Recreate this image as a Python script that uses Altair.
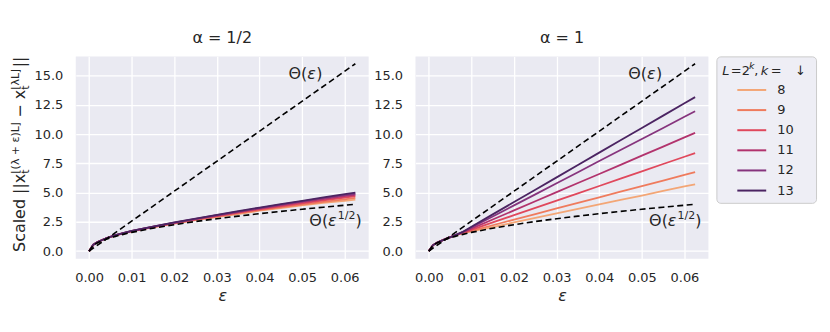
import altair as alt
import pandas as pd

# ---------------- data ----------------
eps = [0.0, 0.001, 0.002, 0.004, 0.006, 0.008, 0.01, 0.015, 0.02, 0.025,
       0.03, 0.035, 0.04, 0.045, 0.05, 0.055, 0.06, 0.0625]
ks = [8, 9, 10, 11, 12, 13]
colors = ["#f3a676", "#ef7b5d", "#e0485c", "#b2336d", "#86347d", "#4b2462"]

# alpha = 1/2 panel
half_8 = [0, 0.55, 0.78, 1.1, 1.33, 1.51, 1.68, 2.04, 2.35, 2.64, 2.9, 3.17, 3.45, 3.68, 3.9, 4.12, 4.3, 4.4]
half_9 = [0, 0.55, 0.78, 1.1, 1.33, 1.52, 1.69, 2.05, 2.37, 2.67, 2.95, 3.22, 3.5, 3.74, 3.98, 4.2, 4.42, 4.55]
half_10 = [0, 0.55, 0.78, 1.1, 1.33, 1.52, 1.7, 2.07, 2.4, 2.71, 3.0, 3.28, 3.57, 3.83, 4.08, 4.33, 4.58, 4.7]
half_11 = [0, 0.55, 0.78, 1.1, 1.34, 1.53, 1.71, 2.08, 2.42, 2.74, 3.04, 3.34, 3.63, 3.91, 4.18, 4.45, 4.7, 4.8]
half_12 = [0, 0.55, 0.78, 1.1, 1.34, 1.53, 1.72, 2.09, 2.44, 2.76, 3.07, 3.38, 3.68, 3.97, 4.25, 4.53, 4.79, 4.9]
half_13 = [0, 0.55, 0.78, 1.1, 1.34, 1.53, 1.72, 2.1, 2.45, 2.78, 3.1, 3.41, 3.72, 4.02, 4.3, 4.59, 4.86, 5.0]

# alpha = 1 panel
one_8 = [0, 0.52, 0.74, 1.05, 1.32, 1.53, 1.68, 2.06, 2.45, 2.83, 3.22, 3.6, 3.99, 4.37, 4.75, 5.14, 5.52, 5.71]
one_9 = [0, 0.52, 0.74, 1.05, 1.32, 1.55, 1.74, 2.21, 2.69, 3.17, 3.65, 4.12, 4.6, 5.08, 5.56, 6.03, 6.51, 6.75]
one_10 = [0, 0.52, 0.74, 1.05, 1.32, 1.57, 1.82, 2.45, 3.07, 3.69, 4.32, 4.94, 5.56, 6.19, 6.81, 7.44, 8.06, 8.37]
one_11 = [0, 0.52, 0.74, 1.05, 1.32, 1.61, 1.92, 2.7, 3.48, 4.26, 5.04, 5.82, 6.59, 7.37, 8.15, 8.93, 9.71, 10.1]
one_12 = [0, 0.52, 0.74, 1.05, 1.32, 1.64, 2.02, 2.96, 3.91, 4.85, 5.8, 6.74, 7.69, 8.63, 9.58, 10.52, 11.47, 11.94]
one_13 = [0, 0.52, 0.74, 1.05, 1.32, 1.66, 2.08, 3.14, 4.19, 5.25, 6.3, 7.35, 8.41, 9.46, 10.51, 11.57, 12.62, 13.15]

# reference curves
sqrt_ref = [0, 0.51, 0.72, 1.01, 1.24, 1.43, 1.6, 1.96, 2.26, 2.53, 2.77, 2.99, 3.2, 3.39, 3.58, 3.75, 3.92, 4.0]
lin_eps = [0.0, 0.0625]
lin_ref = [0.0, 16.0]

x_ticks = [0.0, 0.01, 0.02, 0.03, 0.04, 0.05, 0.06]
y_ticks = [0.0, 2.5, 5.0, 7.5, 10.0, 12.5, 15.0]

# ---------------- style ----------------
FONT = "DejaVu Sans"
TXT = "#262626"
BG = "#EAEAF2"
W, H = 294, 203

half = dict(zip(ks, [half_8, half_9, half_10, half_11, half_12, half_13]))
one = dict(zip(ks, [one_8, one_9, one_10, one_11, one_12, one_13]))


def long_df(d):
    rows = []
    for k in ks:
        for e, v in zip(eps, d[k]):
            rows.append({"eps": e, "val": v, "k": k})
    return pd.DataFrame(rows)


xscale = alt.Scale(domain=[-0.003125, 0.065625], nice=False, zero=False)
yscale = alt.Scale(domain=[-0.64, 16.63], nice=False, zero=False)
cscale = alt.Scale(domain=ks, range=colors)

xaxis = alt.Axis(values=x_ticks, format=".2f", title="ε", titleFontStyle="italic", labelOverlap=False)
yaxis = alt.Axis(values=y_ticks, format=".1f", title=None, labelOverlap=False)

XE = alt.X("eps:Q", scale=xscale, axis=xaxis)
YV = alt.Y("val:Q", scale=yscale, axis=yaxis)


def piece(txt, dx, dy=0, size=16, italic=False):
    return dict(txt=txt, dx=dx, dy=dy, size=size, italic=italic)


def annotations(e, v, pieces):
    df = pd.DataFrame({"eps": [e], "val": [v]})
    out = []
    for p in pieces:
        out.append(
            alt.Chart(df).mark_text(
                align="left", baseline="alphabetic", font=FONT, color=TXT,
                fontSize=p["size"], dx=p["dx"], dy=p["dy"],
                fontStyle="italic" if p["italic"] else "normal", text=p["txt"],
            ).encode(x=XE, y=YV)
        )
    return out


def panel(d, title, with_ytitle):
    lines = alt.Chart(long_df(d)).mark_line(strokeWidth=1.8).encode(
        x=XE, y=YV,
        color=alt.Color("k:N", scale=cscale, legend=None),
    )
    sq = alt.Chart(pd.DataFrame({"eps": eps, "val": sqrt_ref})).mark_line(
        color="black", strokeDash=[6, 3.5], strokeWidth=1.6
    ).encode(x=XE, y=YV)
    li = alt.Chart(pd.DataFrame({"eps": lin_eps, "val": lin_ref})).mark_line(
        color="black", strokeDash=[6, 3.5], strokeWidth=1.6
    ).encode(x=XE, y=YV)
    layers = [lines, sq, li]
    layers += annotations(0.0468, 14.7, [piece("Θ(", 0), piece("ε", 18.8, italic=True), piece(")", 28)])
    layers += annotations(0.0517, 2.15, [piece("Θ(", 0), piece("ε", 18.8, italic=True),
                                         piece("1/2", 28.5, dy=-6.5, size=11), piece(")", 46.3)])
    if with_ytitle:
        segs = [
            ("Scaled ||x", -51, 196.3, 16),
            ("t", -47, 117.7, 11),
            ("⌊(λ + ε)L⌋", -57, 117.7, 11),
            ("− x", -51, 61.5, 16),
            ("t", -47, 33.5, 11),
            ("⌊λL⌋", -57, 33.5, 11),
            ("||", -51, 11, 16),
        ]
        for s, px, py, fs in segs:
            layers.append(
                alt.Chart(pd.DataFrame({"s": [s]})).mark_text(
                    angle=270, align="left", baseline="alphabetic", font=FONT,
                    color=TXT, fontSize=fs, text=s,
                ).encode(x=alt.value(px), y=alt.value(py))
            )
    return alt.layer(*layers).properties(width=W, height=H, title=title)


left = panel(half, "α = 1/2", True)
right = panel(one, "α = 1", False)

# ---------------- legend panel ----------------
leg_df = pd.DataFrame({"k": ks})
lyscale = alt.Scale(domain=[6.33, 13.61], reverse=True, nice=False, zero=False)
leg_rules = alt.Chart(leg_df).mark_rule(strokeWidth=2).encode(
    x=alt.value(21), x2=alt.value(50),
    y=alt.Y("k:Q", scale=lyscale, axis=None),
    color=alt.Color("k:N", scale=cscale, legend=None),
)
leg_labels = alt.Chart(leg_df).mark_text(
    align="left", baseline="middle", font=FONT, fontSize=13, color=TXT
).encode(x=alt.value(61), y=alt.Y("k:Q", scale=lyscale, axis=None), text="k:N")

title_pieces = [
    ("L", 6, 18.6, 13, True),
    ("=", 14.5, 18.6, 13, False),
    ("2", 25.5, 18.6, 13, False),
    ("k", 32.8, 12.8, 9.5, True),
    (",", 38, 18.6, 13, False),
    ("k", 44.5, 18.6, 13, True),
    ("=", 54.5, 18.6, 13, False),
    ("↓", 79, 18.6, 13, False),
]
leg_layers = [leg_rules, leg_labels]
for s, px, py, fs, it in title_pieces:
    leg_layers.append(
        alt.Chart(pd.DataFrame({"s": [s]})).mark_text(
            align="left", baseline="alphabetic", font=FONT, color=TXT, fontSize=fs,
            fontStyle="italic" if it else "normal", text=s,
        ).encode(x=alt.value(px), y=alt.value(py))
    )
legend = alt.layer(*leg_layers).properties(
    width=100, height=147, title=alt.TitleParams(" ", offset=7),
    view=alt.ViewBackground(fill="#EEEEF5", stroke="#CCCCCC", cornerRadius=4),
)

panels = alt.hconcat(left, right, spacing=5)
chart = alt.hconcat(panels, legend, spacing=7).properties(
    padding={"left": 1, "top": 22, "right": 5, "bottom": 5}
).configure_view(
    fill=BG, stroke=None
).configure_axis(
    grid=True, gridColor="white", gridWidth=1.3, domain=False, ticks=False,
    labelFont=FONT, labelFontSize=13, labelColor=TXT, labelPadding=13,
    titleFont=FONT, titleFontSize=16, titleFontWeight="normal", titleColor=TXT,
    titlePadding=3,
).configure_title(
    font=FONT, fontSize=16, fontWeight="normal", color=TXT, offset=10, anchor="middle"
)

chart.save("out.html", embed_options={"renderer": "svg", "actions": False})
